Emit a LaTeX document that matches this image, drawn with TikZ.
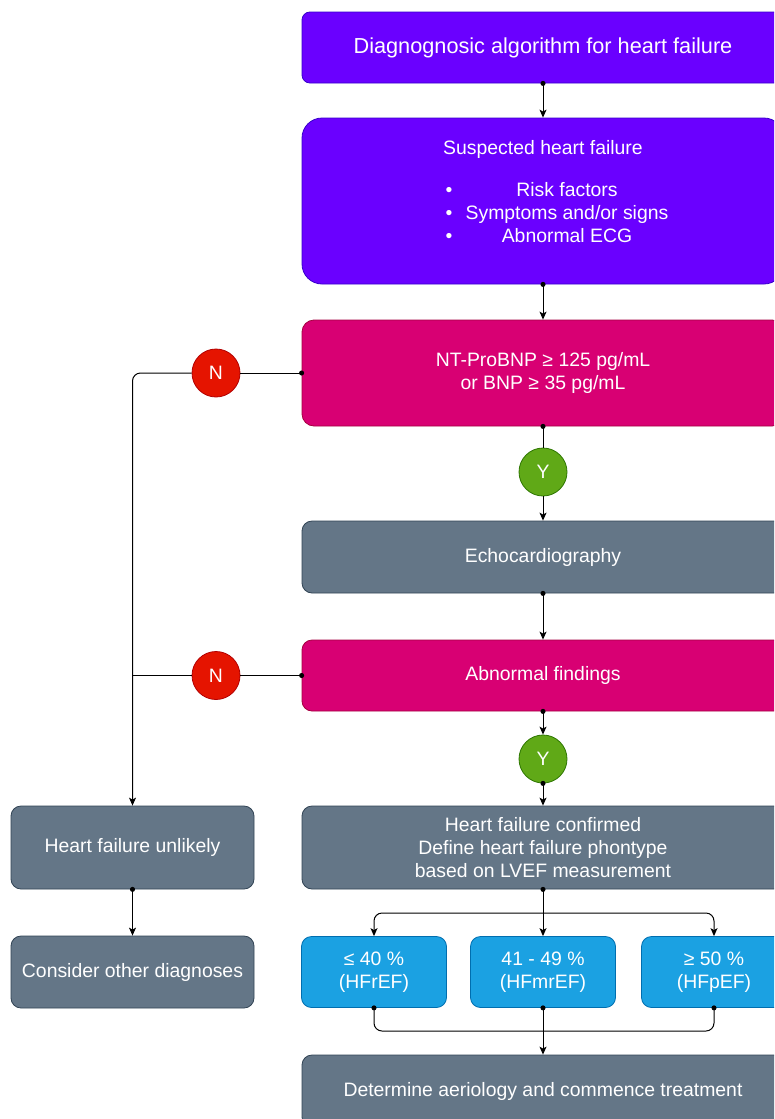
\documentclass[tikz,border=0pt]{standalone}
\usepackage{fontspec}
\setmainfont{Liberation Sans}
\usetikzlibrary{arrows.meta,calc}
\definecolor{purpF}{HTML}{6A00FF}\definecolor{purpD}{HTML}{3700CC}
\definecolor{magF}{HTML}{D80073}\definecolor{magD}{HTML}{A50040}
\definecolor{grayF}{HTML}{647687}\definecolor{grayD}{HTML}{314354}
\definecolor{blueF}{HTML}{1BA1E2}\definecolor{blueD}{HTML}{006EAF}
\definecolor{redF}{HTML}{E51400}\definecolor{redD}{HTML}{B20000}
\definecolor{grnF}{HTML}{60A917}\definecolor{grnD}{HTML}{2D7600}
\newcommand\hftitle{\fontsize{21.7}{26}\selectfont}
\newcommand\hfbody{\fontsize{19.4}{23}\selectfont}
\begin{document}
\begin{tikzpicture}[x=1pt,y=-1pt,
  box/.style={rectangle, rounded corners=#1, draw, line width=0.8pt, text=white,
    align=center, inner sep=0pt, font=\hfbody},
  pbox/.style={box=#1, fill=purpF, draw=purpD},
  mbox/.style={box=#1, fill=magF, draw=magD},
  gbox/.style={box=#1, fill=grayF, draw=grayD},
  bbox/.style={box=#1, fill=blueF, draw=blueD},
  nodisc/.style={circle, draw=redD, fill=redF, line width=0.8pt, minimum size=48pt,
    inner sep=0pt, text=white, font=\hfbody},
  ydisc/.style={circle, draw=grnD, fill=grnF, line width=0.8pt, minimum size=48pt,
    inner sep=0pt, text=white, font=\hfbody},
  txt/.style={inner sep=0pt, text=white, font=\hfbody, anchor=base},
  wire/.style={draw=black, line width=1pt},
  arr/.style={wire, -{Stealth[length=8pt,width=7pt,inset=2pt]}},
  dotarr/.style={wire, {Circle[length=5pt]}-{Stealth[length=8pt,width=7pt,inset=2pt]}, shorten <=-2.5pt},
  dotline/.style={wire, {Circle[length=5pt]}-, shorten <=-2.5pt},
]
\useasboundingbox (0,0) rectangle (774,1119);
\clip (0,0) rectangle (774,1119);

% main column
\node[pbox=8pt, minimum width=482pt, minimum height=71pt, font=\hftitle] (title) at (543,47.5)
  {Diagnognosic algorithm for heart failure};
\node[pbox=20pt, minimum width=482pt, minimum height=166pt] (susp) at (543,201) {};
\node[txt] (suspH) at (543,154) {Suspected heart failure};
\node[txt] (b1) at (449,196) {\textbullet};
\node[txt] (b2) at (449,219) {\textbullet};
\node[txt] (b3) at (449,242) {\textbullet};
\node[txt] (i1) at (567,196) {Risk factors};
\node[txt] (i2) at (567,219) {Symptoms and/or signs};
\node[txt] (i3) at (567,242) {Abnormal ECG};

\node[mbox=12pt, minimum width=482pt, minimum height=106pt] (bnp) at (543,373)
  {NT-ProBNP ≥ 125 pg/mL\\or BNP ≥ 35 pg/mL};
\node[nodisc] (n1) at (216,373) {N};
\node[ydisc] (y1) at (543,472) {Y};
\node[gbox=10pt, minimum width=482pt, minimum height=72pt] (echo) at (543,557) {Echocardiography};
\node[mbox=10pt, minimum width=482pt, minimum height=71pt] (abn) at (543,675.5) {Abnormal findings};
\node[nodisc] (n2) at (216,675.5) {N};
\node[ydisc] (y2) at (543,759) {Y};
\node[gbox=10pt, minimum width=482pt, minimum height=83pt] (conf) at (543,847.5)
  {Heart failure confirmed\\Define heart failure phontype\\based on LVEF measurement};

% left column
\node[gbox=10pt, minimum width=243pt, minimum height=83pt] (unl) at (132.5,847.5) {Heart failure unlikely};
\node[gbox=10pt, minimum width=243pt, minimum height=72pt] (other) at (132.5,972) {Consider other diagnoses};

% LVEF boxes
\node[bbox=10pt, minimum width=145pt, minimum height=71pt] (ef1) at (374,972) {≤ 40 \%\\(HFrEF)};
\node[bbox=10pt, minimum width=145pt, minimum height=71pt] (ef2) at (543,972) {41 - 49 \%\\(HFmrEF)};
\node[bbox=10pt, minimum width=145pt, minimum height=71pt] (ef3) at (714,972) {≥ 50 \%\\(HFpEF)};

\node[gbox=10pt, minimum width=482pt, minimum height=72pt] (treat) at (543,1091)
  {Determine aeriology and commence treatment};

% connectors
\draw[dotarr] (title.south) -- (susp.north);
\draw[dotarr] (susp.south) -- (bnp.north);
\draw[dotline] (bnp.south) -- (y1.north);
\draw[arr] (y1.south) -- (echo.north);
\draw[dotarr] (echo.south) -- (abn.north);
\draw[dotarr] (abn.south) -- (y2.north);
\draw[dotarr] (y2.south) -- (conf.north);

\draw[dotline] (bnp.west) -- (n1.east);
\draw[arr, rounded corners=8pt] (n1.west) -- (n1.west -| unl.north) -- (unl.north);
\draw[dotline] (abn.west) -- (n2.east);
\draw[wire] (n2.west) -- (n2.west -| unl.north);
\draw[dotarr] (unl.south) -- (other.north);

\coordinate (split) at (543,913);
\draw[dotarr] (conf.south) -- (ef2.north);
\draw[arr, rounded corners=8pt] (split) -| (ef1.north);
\draw[arr, rounded corners=8pt] (split) -| (ef3.north);

\coordinate (merge) at (543,1031);
\draw[dotline, rounded corners=8pt] (ef1.south) |- (merge);
\draw[dotline, rounded corners=8pt] (ef3.south) |- (merge);
\draw[dotarr] (ef2.south) -- (treat.north);
\end{tikzpicture}
\end{document}
